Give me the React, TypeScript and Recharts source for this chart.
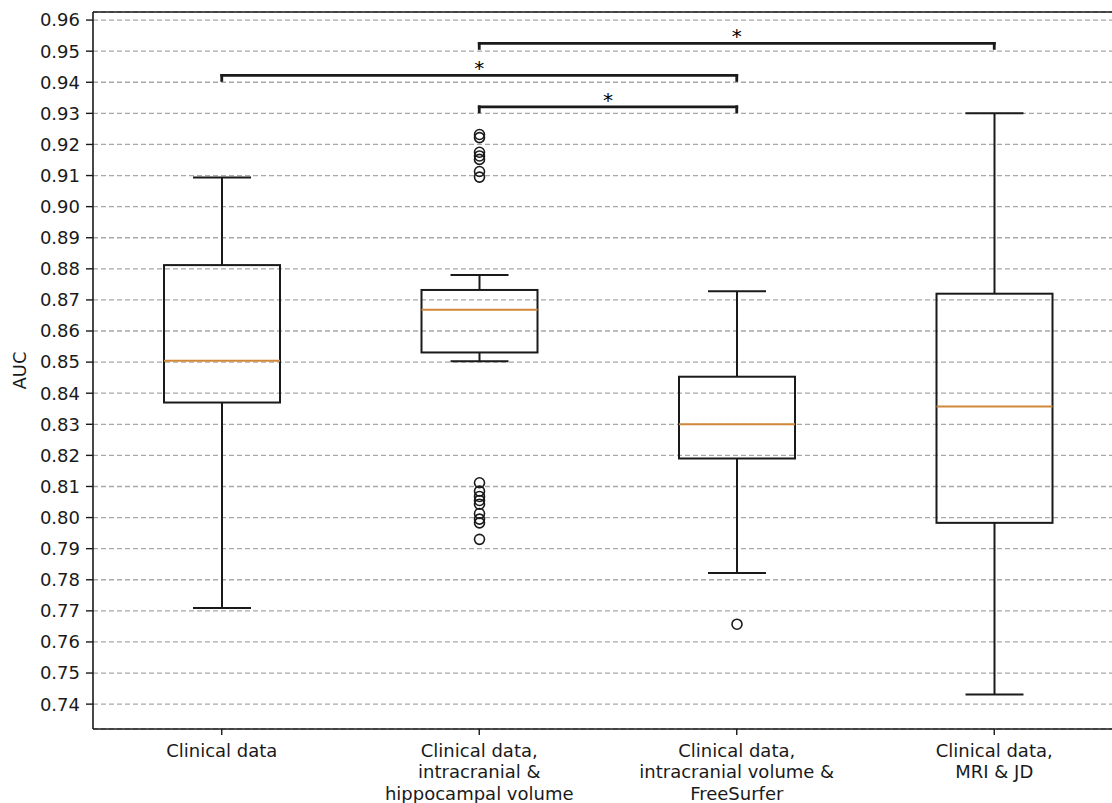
import { Bar, CartesianGrid, ComposedChart, ReferenceLine, XAxis, YAxis } from 'recharts'

const categories = [
  'Clinical data',
  'Clinical data,\nintracranial &\nhippocampal volume',
  'Clinical data,\nintracranial volume &\nFreeSurfer',
  'Clinical data,\nMRI & JD',
]
const whiskerLow = [0.7709, 0.8503, 0.7822, 0.7431]
const quartile1 = [0.837, 0.8531, 0.819, 0.7983]
const medians = [0.8504, 0.8668, 0.83, 0.8357]
const quartile3 = [0.8812, 0.8732, 0.8453, 0.872]
const whiskerHigh = [0.9094, 0.878, 0.8728, 0.93]
const outliers: number[][] = [
  [],
  [
    0.9232, 0.9222, 0.9175, 0.9163, 0.9152, 0.9113, 0.9095, 0.8112, 0.8085, 0.8068,
    0.8055, 0.8043, 0.8013, 0.7995, 0.7983, 0.793,
  ],
  [0.7657],
  [],
]

const yTicks = [
  0.74, 0.75, 0.76, 0.77, 0.78, 0.79, 0.8, 0.81, 0.82, 0.83, 0.84, 0.85, 0.86, 0.87, 0.88,
  0.89, 0.9, 0.91, 0.92, 0.93, 0.94, 0.95, 0.96,
]
const yDomain = [0.732, 0.9626]

// significance brackets: category index pairs
const bracketFrom = [1, 0, 1]
const bracketTo = [3, 2, 2]
const bracketLevel = [0.9525, 0.9422, 0.9321]
const bracketTip = 0.0016
const bracketMark = ['*', '*', '*']

const data = categories.map((name, i) => ({
  name,
  box: [quartile1[i], quartile3[i]],
  low: whiskerLow[i],
  q1: quartile1[i],
  median: medians[i],
  q3: quartile3[i],
  high: whiskerHigh[i],
  outliers: outliers[i],
}))

const ink = '#1a1a1a'
const font = 'DejaVu Sans, sans-serif'

function BoxShape(props: any) {
  const { x, y, width, height, payload } = props
  const { q1, q3, median, low, high } = payload
  const k = height / (q3 - q1)
  const py = (v: number) => y + (q3 - v) * k
  const cx = x + width / 2
  const cap = width / 4
  const line = { stroke: ink, strokeWidth: 2 }
  return (
    <g>
      <line x1={cx} x2={cx} y1={py(high)} y2={y} {...line} />
      <line x1={cx} x2={cx} y1={y + height} y2={py(low)} {...line} />
      <line x1={cx - cap} x2={cx + cap} y1={py(high)} y2={py(high)} {...line} />
      <line x1={cx - cap} x2={cx + cap} y1={py(low)} y2={py(low)} {...line} />
      <rect x={x} y={y} width={width} height={height} fill='none' {...line} />
      <line x1={x} x2={x + width} y1={py(median)} y2={py(median)} stroke='#d2883a' strokeWidth={2} />
      {payload.outliers.map((v: number, j: number) => (
        <circle key={j} cx={cx} cy={py(v)} r={5} fill='none' stroke={ink} strokeWidth={1.6} />
      ))}
    </g>
  )
}

function CategoryTick(props: any) {
  const { x, y, payload } = props
  const lines = String(payload.value).split('\n')
  return (
    <text x={x} y={y} textAnchor='middle' fontSize={18} fill={ink} fontFamily={font}>
      {lines.map((l, i) => (
        <tspan key={i} x={x} dy={i === 0 ? 12.8 : 21.6}>
          {l}
        </tspan>
      ))}
    </text>
  )
}

export default function App() {
  const seg = { stroke: ink, strokeWidth: 2.8, strokeLinecap: 'square' as const }
  return (
    <div
      style={{
        position: 'fixed',
        inset: 0,
        overflow: 'hidden',
        background: '#fff',
        padding: '8px 0 0 8px',
      }}
    >
      <ComposedChart
        width={1115}
        height={795}
        data={data}
        margin={{ top: 4, right: 0, bottom: 0, left: 0 }}
        style={{ fontFamily: font }}
      >
        <CartesianGrid
          vertical={false}
          stroke='#a8a8a8'
          strokeWidth={1.3}
          strokeDasharray='5 3'
        />
        <XAxis
          dataKey='name'
          interval={0}
          height={74}
          tickSize={6}
          tickMargin={9}
          axisLine={{ stroke: ink, strokeWidth: 1.6 }}
          tickLine={{ stroke: ink, strokeWidth: 1.4 }}
          tick={<CategoryTick />}
        />
        <YAxis
          type='number'
          domain={yDomain}
          ticks={yTicks}
          allowDataOverflow
          width={85}
          tickSize={7}
          tickMargin={6}
          tickFormatter={(v) => Number(v).toFixed(2)}
          tick={{ fontSize: 18, fill: ink }}
          axisLine={{ stroke: ink, strokeWidth: 1.6 }}
          tickLine={{ stroke: ink, strokeWidth: 1.4 }}
          label={{
            value: 'AUC',
            angle: -90,
            position: 'insideLeft',
            offset: 12,
            fontSize: 18,
            fill: ink,
            style: { textAnchor: 'middle' },
          }}
        />
        <ReferenceLine y={yDomain[1]} stroke={ink} strokeWidth={1.6} />
        <Bar dataKey='box' barSize={116} shape={<BoxShape />} isAnimationActive={false} />
        {bracketLevel.map((lv, i) => (
          <ReferenceLine
            key={`h${i}`}
            segment={[
              { x: categories[bracketFrom[i]], y: lv },
              { x: categories[bracketTo[i]], y: lv },
            ]}
            {...seg}
            label={{ value: bracketMark[i], position: 'top', offset: 0, fontSize: 20, fill: '#000' }}
          />
        ))}
        {bracketLevel.map((lv, i) => (
          <ReferenceLine
            key={`a${i}`}
            segment={[
              { x: categories[bracketFrom[i]], y: lv },
              { x: categories[bracketFrom[i]], y: lv - bracketTip },
            ]}
            {...seg}
          />
        ))}
        {bracketLevel.map((lv, i) => (
          <ReferenceLine
            key={`b${i}`}
            segment={[
              { x: categories[bracketTo[i]], y: lv },
              { x: categories[bracketTo[i]], y: lv - bracketTip },
            ]}
            {...seg}
          />
        ))}
      </ComposedChart>
    </div>
  )
}
